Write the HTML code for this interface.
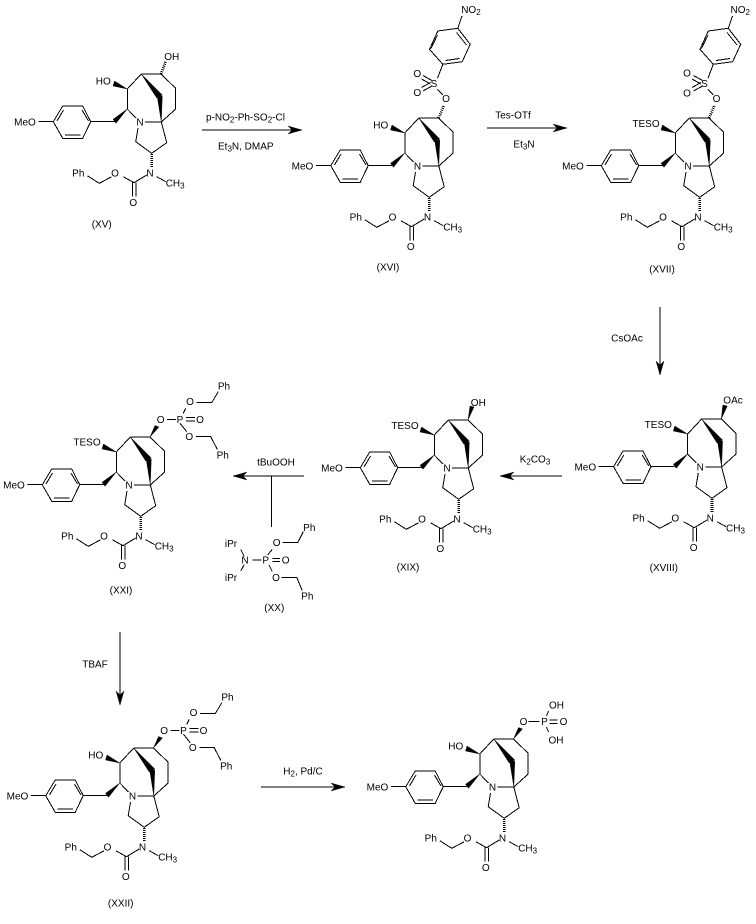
<!DOCTYPE html>
<html><head><meta charset="utf-8"><style>
html,body{margin:0;padding:0;background:#fff}
svg{display:block}
text{font-family:"Liberation Sans",sans-serif;font-size:10px;fill:#000;text-anchor:middle}
.s{text-anchor:start}
tspan.b{font-size:8px}
.l{stroke:#000;stroke-width:1;fill:none;shape-rendering:crispEdges}
.h{stroke:#000;stroke-width:2.6;stroke-dasharray:1 1;fill:none;shape-rendering:crispEdges}
.f{fill:#000;stroke:#000;stroke-width:.4}
</style></head><body>
<svg width="756" height="924" viewBox="0 0 756 924" xmlns="http://www.w3.org/2000/svg">
<defs>
<g id="core">
<path class="l" d="M141.3 74L127.3 89V109L136 118M145 122H161.3M141.3 74H161L175.7 88.3V109L161.3 122L166.7 142.7L151.7 153.3L135.7 141.7L138 128"/>
<polygon class="f" points="141.3,74 156.7,98 162.3,95"/>
<polygon class="f" points="161.3,122 157.3,97 162.3,96"/>
<polygon class="f" points="127.3,89 114.5,81 113,86"/>
<polygon class="f" points="127.3,109 113,119.3 116,123.3"/>
<path class="l" d="M114.3 121.7H90.7L82.7 106H62.7L53.3 121.7L62.7 138.3H82.7L90.7 121.7M38.3 121.7H53.3M63.5 110L57 121M82 110L88.5 121M65 135H80.5"/>
<path class="h" d="M151.7 154V167"/>
<path class="l" d="M156.7 176.7L165.7 181.7M146.7 175L134 182.7L123.3 176.7M111.7 176.7L99.3 183.3L87.3 175.7M132.7 182.7V196.7M136 182.7V196.7"/>
</g>
<g id="tos">
<path class="h" d="M161 74L166.5 61.5"/>
<path class="l" d="M165.3 51L160 45.3M160 34.3L165.3 20.3L152 5.3L160.3 -13L180.3 -15.7L192.7 .3L184.7 17.7L165.3 20.3M160 -9L153.5 4.5M179 -11.5L189 1M168 16.5L182 14.5M180.3 -15.7L184.5 -28"/>
<path class="l" d="M145.5 31.5L154.5 36.5M144 35L153 40M145.5 47L154.5 42M144 43.5L153 38.5"/>
</g>
<g id="phos">
<polygon class="f" points="161,74 166,62.5 170,64"/>
<path class="l" d="M178 56.3H187M197 54.7H206M197 58H206M194.3 50.3L196.7 45.3M207.7 39.7H222.7L229.3 28.7M191 60.3L197.7 68.7M207 73.7H221.7L228.3 86.3"/>
</g>
<g id="ar"><polygon class="f" points="0,0 -14,-4 -10,0 -14,4"/><polygon class="f" points="0,0 -10,-1.5 -10,1.5"/></g>
</defs>

<!-- XV -->
<g transform="translate(0,0)"><use href="#core"/>
<path class="h" d="M161 74L165.7 61.5"/>
<text x="25" y="125.5">MeO</text><text x="103.3" y="84.5">HO</text><text x="171.7" y="60">OH</text><text x="140" y="125.5">N</text>
<text x="78.3" y="176.5">Ph</text><text x="115" y="176.5">O</text><text x="150" y="176.5">N</text><text x="133.3" y="206">O</text>
<text class="s" x="165.7" y="186.5">CH<tspan class="b" dy="2">3</tspan></text>
<text x="101.7" y="227.5">(XV)</text></g>

<!-- XVI -->
<g transform="translate(277.5,44)"><use href="#core"/><use href="#tos"/>
<text x="25" y="125.5">MeO</text><text x="103.3" y="84.5">HO</text><text x="168.5" y="58">O</text><text x="156.5" y="43">S</text>
<text x="139.8" y="32.8">O</text><text x="139.8" y="52.2">O</text>
<text class="s" x="183.7" y="-31">NO<tspan class="b" dy="2">2</tspan></text>
<text x="140" y="125.5">N</text>
<text x="78.3" y="176.5">Ph</text><text x="115" y="176.5">O</text><text x="150" y="176.5">N</text><text x="133.3" y="206">O</text>
<text class="s" x="165.7" y="186.5">CH<tspan class="b" dy="2">3</tspan></text>
<text x="110.5" y="226.5">(XVI)</text></g>

<!-- XVII -->
<g transform="translate(548,44)"><use href="#core"/><use href="#tos"/>
<text x="25" y="125.5">MeO</text><text x="98" y="83">TESO</text><text x="168.5" y="58">O</text><text x="156.5" y="43">S</text>
<text x="139" y="32.5">O</text><text x="139" y="52.5">O</text>
<text class="s" x="182.5" y="-31">NO<tspan class="b" dy="2">2</tspan></text>
<text x="140" y="125.5">N</text>
<text x="78.3" y="176.5">Ph</text><text x="115" y="176.5">O</text><text x="150" y="176.5">N</text><text x="133.3" y="206">O</text>
<text class="s" x="165.7" y="186.5">CH<tspan class="b" dy="2">3</tspan></text>
<text x="114" y="228.5">(XVII)</text></g>

<!-- XVIII -->
<g transform="translate(560.3,345)"><use href="#core"/>
<polygon class="f" points="161,74 162.5,60 167,61"/>
<text x="25" y="125.5">MeO</text><text x="98" y="83">TESO</text><text class="s" x="163" y="58.5">OAc</text><text x="140" y="125.5">N</text>
<text x="78.3" y="176.5">Ph</text><text x="115" y="176.5">O</text><text x="150" y="176.5">N</text><text x="133.3" y="206">O</text>
<text class="s" x="165.7" y="186.5">CH<tspan class="b" dy="2">3</tspan></text>
<text x="103.5" y="226">(XVIII)</text></g>

<!-- XIX -->
<g transform="translate(307,346)"><use href="#core"/>
<polygon class="f" points="161,74 163,60 167,61"/>
<text x="25" y="125.5">MeO</text><text x="98" y="83">TESO</text><text x="171.3" y="59.8">OH</text><text x="140" y="125.5">N</text>
<text x="78.3" y="176.5">Ph</text><text x="115" y="176.5">O</text><text x="150" y="176.5">N</text><text x="133.3" y="206">O</text>
<text class="s" x="165.7" y="186.5">CH<tspan class="b" dy="2">3</tspan></text>
<text x="101" y="224.5">(XIX)</text></g>

<!-- XXI -->
<g transform="translate(-11,363)"><use href="#core"/><use href="#phos"/>
<text x="25" y="125.5">MeO</text><text x="98" y="82.5">TESO</text><text x="140" y="125.5">N</text>
<text x="171.7" y="59.8">O</text><text x="191" y="59.8">P</text><text x="211" y="59.8">O</text><text x="201" y="42.2">O</text><text x="235" y="26.5">Ph</text><text x="200.3" y="77.2">O</text><text x="233.7" y="95.5">Ph</text>
<text x="78.3" y="176.5">Ph</text><text x="115" y="176.5">O</text><text x="150" y="176.5">N</text><text x="133.3" y="206">O</text>
<text class="s" x="165.7" y="186.5">CH<tspan class="b" dy="2">3</tspan></text>
<text x="132" y="230.5">(XXI)</text></g>

<!-- XX -->
<path class="l" d="M240.7 549.3L244.3 556.7M240.7 571L244.3 564.5M252.3 560H261.7M272.3 558.3H280M272.3 561.7H280M267.7 555L272.3 549.3M269 565L272.3 571.7M282.7 542.7H297.7L303.3 531.7M281.7 577.3H296.7L302.3 590.7"/>
<text x="245" y="563.5">N</text><text x="265.7" y="563.5">P</text><text x="285.7" y="563.5">O</text><text x="276.7" y="546.2">O</text><text x="309.3" y="531.2">Ph</text><text x="276" y="580.8">O</text><text x="307.3" y="599.5">Ph</text><text x="231" y="546.8">iPr</text><text x="231" y="580.8">iPr</text><text x="274.3" y="611.2">(XX)</text>

<!-- XXII -->
<g transform="translate(-7.5,674)"><use href="#core"/><use href="#phos"/>
<text x="25" y="125.5">MeO</text><text x="103.3" y="84.5">HO</text><text x="140" y="125.5">N</text>
<text x="171.7" y="59.8">O</text><text x="191" y="59.8">P</text><text x="211" y="59.8">O</text><text x="201" y="42.2">O</text><text x="235" y="26.5">Ph</text><text x="200.3" y="77.2">O</text><text x="233.7" y="95.5">Ph</text>
<text x="78.3" y="176.5">Ph</text><text x="115" y="176.5">O</text><text x="150" y="176.5">N</text><text x="133.3" y="206">O</text>
<text class="s" x="165.7" y="186.5">CH<tspan class="b" dy="2">3</tspan></text>
<text x="128.2" y="232.5">(XXII)</text></g>

<!-- Final -->
<g transform="translate(352.5,665)"><use href="#core"/>
<polygon class="f" points="161,74 166,62.5 170,64"/>
<path class="l" d="M176 56.7H187M197 55H205M197 58.5H205M194 51L196 46M194 62L196 67"/>
<text x="25" y="125.5">MeO</text><text x="103.3" y="84.5">HO</text><text x="140" y="125.5">N</text>
<text x="171" y="60.2">O</text><text x="192" y="60.2">P</text><text x="211" y="60.2">O</text><text x="204" y="43.5">OH</text><text x="203.5" y="78.5">OH</text>
<text x="78.3" y="176.5">Ph</text><text x="115" y="176.5">O</text><text x="150" y="176.5">N</text><text x="133.3" y="206">O</text>
<text class="s" x="165.7" y="186.5">CH<tspan class="b" dy="2">3</tspan></text></g>

<!-- Arrows -->
<path class="l" d="M202 130H300"/><use href="#ar" transform="translate(302,130)"/>
<text class="s" x="206" y="120.5">p-NO<tspan class="b" dy="2">2</tspan><tspan dy="-2">-Ph-SO</tspan><tspan class="b" dy="2">2</tspan><tspan dy="-2">-Cl</tspan></text>
<text class="s" x="218" y="149.5">Et<tspan class="b" dy="2">3</tspan><tspan dy="-2">N, DMAP</tspan></text>

<path class="l" d="M487 128H565"/><use href="#ar" transform="translate(567,128)"/>
<text x="513" y="118.5">Tes-OTf</text>
<text x="524" y="147.5">Et<tspan class="b" dy="2">3</tspan><tspan dy="-2">N</tspan></text>

<path class="l" d="M660 307V373"/><use href="#ar" transform="translate(660,375) rotate(90)"/>
<text x="627" y="341.5">CsOAc</text>

<path class="l" d="M562 476H502"/><use href="#ar" transform="translate(500,476) rotate(180)"/>
<text x="535" y="462.5">K<tspan class="b" dy="2">2</tspan><tspan dy="-2">CO</tspan><tspan class="b" dy="2">3</tspan></text>

<path class="l" d="M304 476H235M271.5 476V527"/><use href="#ar" transform="translate(233,476) rotate(180)"/>
<text x="276" y="465.5">tBuOOH</text>

<path class="l" d="M120 632V703"/><use href="#ar" transform="translate(120,705) rotate(90)"/>
<text x="95" y="667.5">TBAF</text>

<path class="l" d="M261 787H343"/><use href="#ar" transform="translate(345,787)"/>
<text x="303" y="774.5">H<tspan class="b" dy="2">2</tspan><tspan dy="-2">, Pd/C</tspan></text>
</svg>
</body></html>
